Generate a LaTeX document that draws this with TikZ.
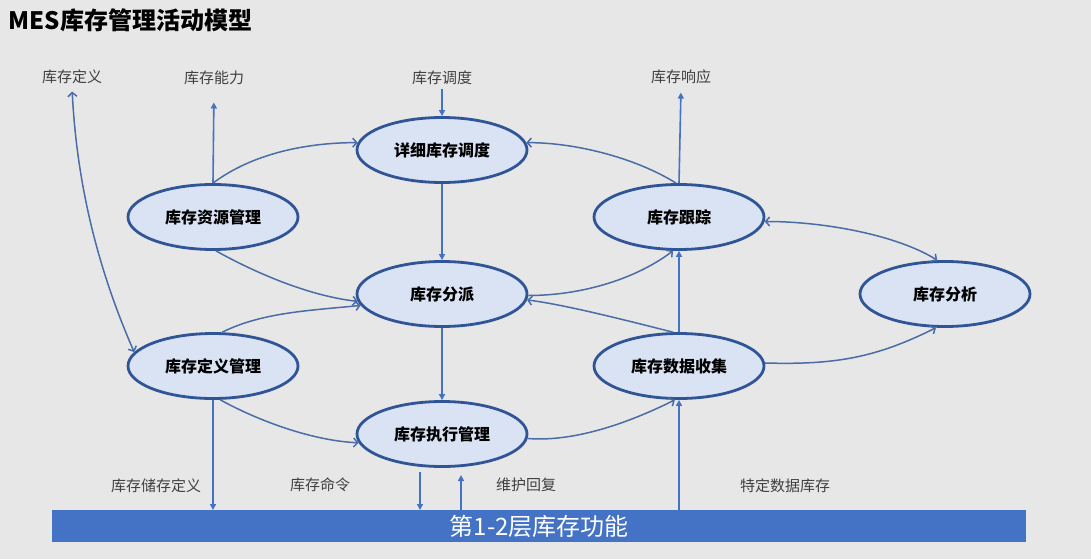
\documentclass[tikz,border=0pt]{standalone}
\usepackage{fontspec}
\setmainfont{Noto Sans CJK SC}
\usetikzlibrary{shapes.geometric,arrows.meta}
\definecolor{bgray}{HTML}{E7E7E7}
\definecolor{efill}{HTML}{DAE3F3}
\definecolor{edraw}{HTML}{2F5597}
\definecolor{flowblue}{HTML}{4472C4}
\definecolor{linkblue}{HTML}{4A6DA7}
\definecolor{lblgray}{HTML}{404040}
\begin{document}
\begin{tikzpicture}[x=1pt,y=-1pt,
	proc/.style={ellipse,draw=edraw,fill=efill,line width=2.8pt,minimum width=170pt,minimum height=65pt,inner sep=0pt,font=\fontsize{16}{18}\selectfont\bfseries},
	lbl/.style={text=lblgray,font=\fontsize{15}{18}\selectfont},
	flow/.style={draw=flowblue,line width=1.6pt,-{Triangle[length=6pt,width=6pt]}},
	link/.style={draw=linkblue,line width=1.5pt,-{Straight Barb[length=4pt,width=9pt]}},
	twoway/.style={link,{Straight Barb[length=4pt,width=9pt]}-{Straight Barb[length=4pt,width=9pt]}}]
		\fill[bgray](0,0) rectangle (1091,559);
		\node[anchor=west,font=\fontsize{24}{28}\selectfont\bfseries] (title) at (5,20) {MES库存管理活动模型};
		% activities
		\node[proc] (sched) at (442,150) {详细库存调度};
		\node[proc] (res) at (213,217) {库存资源管理};
		\node[proc] (track) at (679,217) {库存跟踪};
		\node[proc] (disp) at (442,294) {库存分派};
		\node[proc] (anal) at (945,294) {库存分析};
		\node[proc] (def) at (213,366) {库存定义管理};
		\node[proc] (coll) at (679,366) {库存数据收集};
		\node[proc] (exec) at (442,434) {库存执行管理};
		\node[fill=flowblue,minimum width=974pt,minimum height=32pt,inner sep=0pt,anchor=north west,text=white,font=\fontsize{24}{28}\selectfont] (layer) at (52,510) {第1-2层库存功能};
		% in/out labels
		\node[lbl] (defl) at (72,77) {库存定义};
		\node[lbl] (capl) at (214,78) {库存能力};
		\node[lbl] (schedl) at (442,78) {库存调度};
		\node[lbl] (respl) at (681,77) {库存响应};
		\node[lbl] (storl) at (156,486) {库存储存定义};
		\node[lbl] (cmdl) at (320,485) {库存命令};
		\node[lbl] (maintl) at (526,485) {维护回复};
		\node[lbl] (datal) at (785,486) {特定数据库存};
		\coordinate (cmdtop) at (420,472);
		\coordinate (maintop) at (461,475);
		% straight flows
		\draw[flow,shorten >=14pt] (res.north) -- (capl.south);
		\draw[flow] (schedl.south) -- (sched.north);
		\draw[flow] (sched.south) -- (disp.north);
		\draw[flow] (disp.south) -- (exec.north);
		\draw[flow] (coll.north) -- (track.south);
		\draw[flow,shorten >=5pt] (track.north) -- (respl.south);
		\draw[flow] (layer.north -| coll.south) -- (coll.south);
		\draw[flow] (def.south) -- (def.south |- layer.north);
		\draw[flow] (cmdtop) -- (cmdtop |- layer.north);
		\draw[flow] (maintop |- layer.north) -- (maintop);
		% curved links
		\draw[twoway,shorten <=4pt] (defl.south) .. controls +(5,100) and +(-35,-80) .. (def.170);
		\draw[link] (res.north) .. controls +(40,-30) and +(-50,0) .. (sched.175);
		\draw[link] (res.-85) .. controls +(45,25) and +(-45,-5) .. (disp.185);
		\draw[link] (def.75) .. controls +(40,-20) and +(-50,5) .. (disp.188);
		\draw[link] (def.-78) .. controls +(40,22) and +(-45,-2) .. (exec.186);
		\draw[link] (disp.-1) .. controls +(50,0) and +(-40,30) .. (track.-100);
		\draw[link] (coll.100) .. controls +(-40,-10) and +(40,5) .. (disp.-4);
		\draw[link] (track.95) .. controls +(-40,-25) and +(50,0) .. (sched.5);
		\draw[twoway] (track.-3) .. controls +(60,0) and +(-40,-25) .. (anal.103);
		\draw[link] (coll.2) .. controls +(70,2) and +(-60,30) .. (anal.-105);
		\draw[link] (exec.-3) .. controls +(50,4) and +(-40,20) .. (coll.-97);
\end{tikzpicture}
\end{document}
